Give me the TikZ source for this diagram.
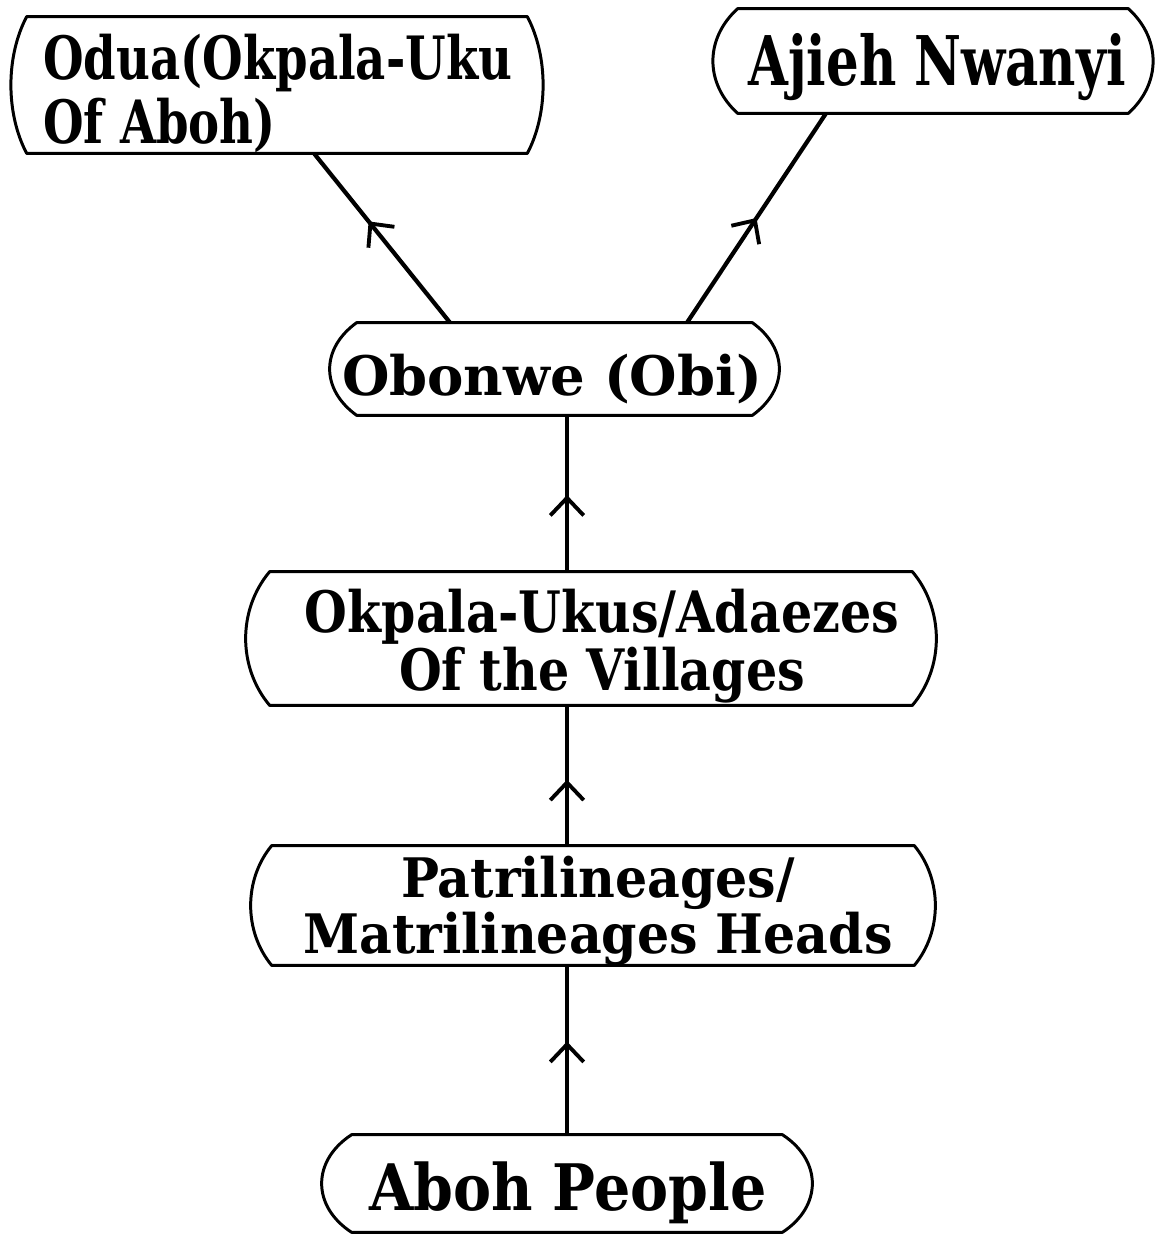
\documentclass[tikz,border=0pt]{standalone}
\usepackage{fontspec}
\newfontfamily\handfont{DejaVu Serif}
\usetikzlibrary{arrows.meta,decorations.markings}

\tikzset{
  x=0.02cm, y=-0.02cm,
  % #1 size, #2 line skip, #3 horizontal stretch
  tag/.style n args={3}{font=\handfont\bfseries\addfontfeatures{FakeStretch=#3}\fontsize{#1}{#2}\selectfont,
              align=center, inner sep=0pt, anchor=base},
  box/.style 2 args={draw=none, inner sep=0pt, minimum width=#1*0.02cm, minimum height=#2*0.02cm},
  frame/.style={line width=1.7pt, line join=round},
  link/.style={line width=2.4pt, postaction=decorate,
    decoration={markings, mark=at position #1 with
      {\arrow{Straight Barb[length=10pt,width=19pt,line width=2.2pt]}}}},
}

% outline of a label box: straight top and bottom, bowed sides
\newcommand\bowframe[3]{%
  \draw[frame] (#1.north west) -- (#1.north east)
    .. controls ([shift={(#2,#3)}]#1.north east) and ([shift={(#2,-#3)}]#1.south east) .. (#1.south east)
    -- (#1.south west)
    .. controls ([shift={(-#2,-#3)}]#1.south west) and ([shift={(-#2,#3)}]#1.north west) .. cycle;}

\begin{document}
\begin{tikzpicture}
\useasboundingbox (0,0) rectangle (1154,1234);

% box outlines (as empty nodes)
\node[box={500}{136}] (odua)   at (277,85)   {};
\node[box={390}{104}] (ajieh)  at (933,61)   {};
\node[box={395}{92}]  (obi)    at (554.5,369) {};
\node[box={642}{133}] (okp)    at (591,638.5) {};
\node[box={642}{119}] (pat)    at (593,905.5) {};
\node[box={430}{97}]  (people) at (567,1183.5) {};

\bowframe{odua}{21}{40}
\bowframe{ajieh}{33}{30}
\bowframe{obi}{36}{26}
\bowframe{okp}{32}{38}
\bowframe{pat}{28}{34}
\bowframe{people}{40}{26}

% labels (the base of a two-line label is its last line)
\node[tag={34}{36}{0.78}, align=left, anchor=base west] (odua-t) at (43,143)
  {Odua(Okpala-Uku\\Of Aboh)};
\node[tag={39}{40}{0.75}] (ajieh-t) at (937,85) {Ajieh Nwanyi};
\node[tag={31}{32}{1.0}] (obi-t) at (552,395) {Obonwe (Obi)};
\node[tag={32.5}{30}{0.86}] (okp-t) at (602,690)
  {Okpala-Ukus/Adaezes\\Of the Villages};
\node[tag={31}{25.5}{0.93}] (pat-t) at (598,953)
  {Patrilineages/\\Matrilineages Heads};
\node[tag={36.5}{38}{0.89}] (people-t) at (568,1210) {Aboh People};

% connectors, each with a chevron part way up
\draw[link=0.55] (people.north) -- (people.north |- pat.south);
\draw[link=0.47] (people.north |- pat.north) -- (people.north |- okp.south);
\draw[link=0.49] (people.north |- okp.north) -- (people.north |- obi.south);
\draw[link=0.6]  ([xshift=-2.09cm]obi.north) -- ([xshift=0.74cm]odua.south);
\draw[link=0.5]  ([xshift=2.65cm]obi.north) -- ([xshift=-2.14cm]ajieh.south);
\end{tikzpicture}
\end{document}
